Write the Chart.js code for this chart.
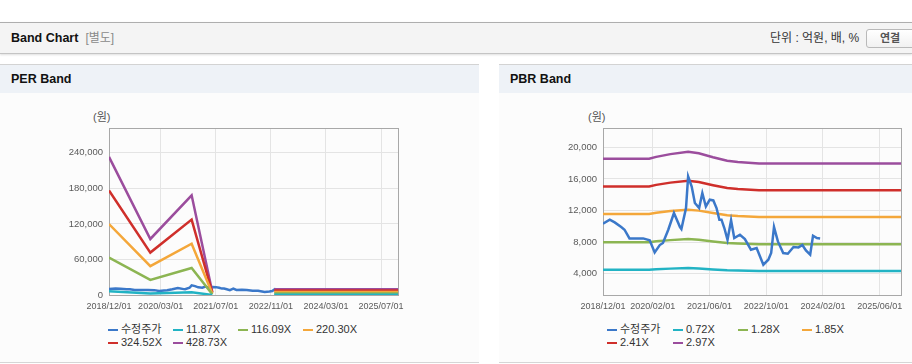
<!DOCTYPE html>
<html>
<head>
<meta charset="UTF-8">
<title>Band Chart</title>
<script src="https://cdn.jsdelivr.net/npm/chart.js"></script>
<style>
    body { margin: 0; width: 912px; height: 364px; overflow: hidden; background: #fff; position: relative;
           font-family: "Liberation Sans", "Noto Sans CJK KR", sans-serif; color: #222; }
    #bar { position: absolute; left: 0; top: 22px; width: 912px; height: 30px; background: #f4f4f4;
           border-top: 1px solid #aeaeae; border-bottom: 1px solid #c4c4c4; box-shadow: 0 1px 2px rgba(0,0,0,.13); }
    #bar .title { position: absolute; left: 11px; top: 7px; line-height: 16px; font-size: 12.5px; font-weight: bold; color: #111; }
    #bar .title span { font-weight: normal; color: #8a8a8a; margin-left: 7px; font-size: 12px; }
    #bar .unit { position: absolute; left: 770px; top: 7px; line-height: 16px; font-size: 12px; color: #333; }
    #bar .btn { position: absolute; left: 866px; top: 6px; width: 60px; height: 17px; border: 1px solid #b9b9b9; border-radius: 3px;
           background: linear-gradient(#fff, #f1f1f1); font-size: 11px; font-weight: bold; color: #555; line-height: 17px; padding-left: 13px; box-sizing: content-box; }
    .panel { position: absolute; top: 64px; height: 297px; background: #fcfcfc; border-top: 1px solid #d3d3d3; border-bottom: 1px solid #d6d6d6; }
    .panel .ph { height: 28px; background: #eef2f7; font-weight: bold; font-size: 12.5px; line-height: 28px; padding-left: 11px; color: #111; }
    .chartbox { position: absolute; top: 100px; height: 215px; }
    .unitlbl { position: absolute; top: 110px; font-size: 11px; color: #555; line-height: 14px; }
    .lg { position: absolute; font-size: 11px; color: #333; line-height: 13px; white-space: nowrap; }
    .lgm { position: absolute; width: 10px; height: 2px; }
</style>
</head>
<body>
<div id="bar">
    <div class="title">Band Chart<span>[별도]</span></div>
    <div class="unit">단위 : 억원, 배, %</div>
    <div class="btn">연결</div>
</div>

<div class="panel" style="left:0; width:479px;"><div class="ph">PER Band</div></div>
<div class="panel" style="left:499px; width:420px;"><div class="ph">PBR Band</div></div>

<div class="unitlbl" style="left:93px;">(원)</div>
<div class="unitlbl" style="left:588px;">(원)</div>

<div class="chartbox" style="left:40px; width:370px;"><canvas id="perChart" width="370" height="215"></canvas></div>
<div class="chartbox" style="left:520px; width:392px;"><canvas id="pbrChart" width="392" height="215"></canvas></div>

<div id="legends"></div>

<script>
// ---- data ----
const seriesColors = ['#3b78c9', '#22b3c4', '#8cb552', '#f4a73a', '#cf2f2b', '#9b4d9d'];

// 수정주가 (shared by both charts)
const priceDates = ['2018/12/01','2019/01/28','2019/03/10','2019/05/05','2019/06/03','2019/07/15','2019/11/10',
    '2020/01/06','2020/02/18','2020/04/01','2020/04/28','2020/06/13','2020/08/01','2020/09/22','2020/10/04',
    '2020/11/13','2020/12/01','2021/01/01','2021/01/28','2021/03/04','2021/04/01','2021/05/01','2021/06/04',
    '2021/07/04','2021/08/01','2021/08/25','2021/09/13','2021/10/07','2021/11/04','2021/12/04','2022/01/01',
    '2022/02/19','2022/04/01','2022/05/22','2022/07/10','2022/09/07','2022/10/19','2022/11/13','2022/12/07',
    '2023/01/10','2023/02/25','2023/04/04','2023/05/22','2023/07/04','2023/08/07','2023/09/07','2023/10/13',
    '2023/11/07','2023/12/10','2024/01/07'];
const priceValues = [10330, 10840, 10500, 9910, 9570, 8470, 8470,
    8220, 6700, 7630, 7890, 9570, 11690, 9910, 9660,
    12320, 16320, 15050, 12950, 12320, 14220, 12520, 13370,
    13280, 12320, 10840, 10840, 9790, 8300, 10760, 8520,
    8940, 8390, 7040, 7250, 5140, 5770, 6620, 9910,
    8090, 6620, 6530, 7380, 7330, 7630, 6950, 6410,
    8810, 8520, 8470];

// PER band
const perNames = ['수정주가', '11.87X', '116.09X', '220.30X', '324.52X', '428.73X'];
const perDates = ['2018/12/01', '2019/12/01', '2020/12/01', '2021/06/01', '2022/06/01', '2022/12/01', '2025/12/01'];
const per1187  = [6460, 2620, 4660, 140, null, 270, 270];
const per11609 = [63150, 25600, 45600, 1380, null, 2670, 2670];
const per22030 = [119800, 48600, 86500, 2620, null, 5070, 5070];
const per32452 = [176500, 71600, 127400, 3860, null, 7460, 7460];
const per42873 = [233200, 94600, 168300, 5100, null, 9860, 9860];
const perXTicks = ['2018/12/01', '2020/03/01', '2021/07/01', '2022/11/01', '2024/03/01', '2025/07/01'];
const perYTicks = [0, 60000, 120000, 180000, 240000];

// PBR band
const pbrNames = ['수정주가', '0.72X', '1.28X', '1.85X', '2.41X', '2.97X'];
const pbrDates = ['2018/12/01', '2020/01/01', '2020/03/01', '2020/07/01', '2020/12/01', '2021/03/01',
    '2021/07/01', '2021/11/01', '2022/02/01', '2022/08/01', '2025/12/01'];
const pbr072 = [4499, 4499, 4558, 4642, 4715, 4667, 4545, 4436, 4400, 4354, 4354];
const pbr128 = [7999, 7999, 8102, 8253, 8383, 8296, 8081, 7887, 7822, 7740, 7740];
const pbr185 = [11561, 11561, 11711, 11929, 12116, 11991, 11680, 11399, 11306, 11187, 11187];
const pbr241 = [15061, 15061, 15255, 15539, 15783, 15620, 15215, 14850, 14728, 14574, 14574];
const pbr297 = [18560, 18560, 18800, 19150, 19450, 19250, 18750, 18300, 18150, 17960, 17960];
const pbrXTicks = ['2018/12/01', '2020/02/01', '2021/06/01', '2022/10/01', '2024/02/01', '2025/06/01'];
const pbrYTicks = [4000, 8000, 12000, 16000, 20000];

// ---- helpers ----
// months since 2018/12/01
function toMonth(s) {
    const p = s.split('/').map(Number);
    return (p[0] - 2018) * 12 + (p[1] - 12) + (p[2] - 1) / 30;
}

function points(dates, values) {
    return dates.map((d, i) => ({ x: toMonth(d), y: values[i] }));
}

const framePlugin = {
    id: 'frame',
    beforeDatasetsDraw(chart) {
        const a = chart.chartArea, ctx = chart.ctx;
        ctx.save();
        ctx.strokeStyle = '#a8a8a8';
        ctx.lineWidth = 1;
        ctx.strokeRect(Math.round(a.left) + 0.5, Math.round(a.top) + 0.5, Math.round(a.right - a.left), Math.round(a.bottom - a.top));
        ctx.restore();
    }
};

const tickFont = { family: '"Liberation Sans", Arial, sans-serif' };

function makeChart(id, datasets, opt) {
    return new Chart(document.getElementById(id), {
        type: 'line',
        data: { datasets: datasets },
        plugins: [framePlugin],
        options: {
            responsive: false,
            animation: false,
            devicePixelRatio: 1,
            layout: { padding: { top: 28, right: opt.padRight, left: 0, bottom: 0 } },
            plugins: { legend: { display: false }, tooltip: { enabled: false } },
            elements: { point: { radius: 0 }, line: { borderWidth: 2.5, tension: 0 } },
            scales: {
                x: {
                    type: 'linear', min: 0, max: toMonth('2025/12/01'),
                    afterBuildTicks: s => { s.ticks = opt.xTicks.map(t => ({ value: toMonth(t) })); },
                    afterFit: s => { s.height = 20; },
                    grid: { color: '#e4e4e4', drawTicks: false },
                    border: { display: false },
                    ticks: { autoSkip: false, maxRotation: 0, padding: 6, color: '#5a5a5a',
                             font: Object.assign({ size: 9 }, tickFont),
                             callback: (v, i) => opt.xTicks[i] }
                },
                y: {
                    min: opt.yMin, max: opt.yMax,
                    afterBuildTicks: s => { s.ticks = opt.yTicks.map(v => ({ value: v })); },
                    afterFit: s => { s.width = opt.yWidth; },
                    grid: { color: '#e4e4e4', drawTicks: false },
                    border: { display: false },
                    ticks: { padding: 6, color: '#5a5a5a', font: Object.assign({ size: 9.5 }, tickFont),
                             callback: v => v.toLocaleString('en-US') }
                }
            }
        }
    });
}

function bandSet(label, dates, values, color) {
    return { label: label, data: points(dates, values), borderColor: color, backgroundColor: color, spanGaps: false };
}

// PER chart: bands drawn above the price line
const perBands = [per1187, per11609, per22030, per32452, per42873];
const perSets = [Object.assign(bandSet(perNames[0], priceDates, priceValues, seriesColors[0]), { order: 10 })];
perBands.forEach((b, i) => perSets.push(bandSet(perNames[i + 1], perDates, b, seriesColors[i + 1])));
makeChart('perChart', perSets, { xTicks: perXTicks, yTicks: perYTicks, yMin: 0, yMax: 282000, yWidth: 69, padRight: 8 });

// PBR chart: price line on top
const pbrBands = [pbr072, pbr128, pbr185, pbr241, pbr297];
const pbrSets = [bandSet(pbrNames[0], priceDates, priceValues, seriesColors[0])];
pbrBands.forEach((b, i) => pbrSets.push(bandSet(pbrNames[i + 1], pbrDates, b, seriesColors[i + 1])));
makeChart('pbrChart', pbrSets, { xTicks: pbrXTicks, yTicks: pbrYTicks, yMin: 1300, yMax: 22460, yWidth: 83, padRight: 11 });

// legends (grid of columns under each chart)
function buildLegend(names, textX, rowY) {
    const box = document.getElementById('legends');
    names.forEach((n, i) => {
        const col = i % 4, row = Math.floor(i / 4);
        const m = document.createElement('div');
        m.className = 'lgm';
        m.style.left = (textX[col] - 13) + 'px';
        m.style.top = (rowY[row] - 1) + 'px';
        m.style.background = seriesColors[i];
        box.appendChild(m);
        const t = document.createElement('div');
        t.className = 'lg';
        t.textContent = n;
        t.style.left = textX[col] + 'px';
        t.style.top = (rowY[row] - 7) + 'px';
        box.appendChild(t);
    });
}
buildLegend(perNames, [121, 186, 251, 316], [330, 343]);
buildLegend(pbrNames, [620, 686, 751, 815], [330, 343]);
</script>
</body>
</html>
